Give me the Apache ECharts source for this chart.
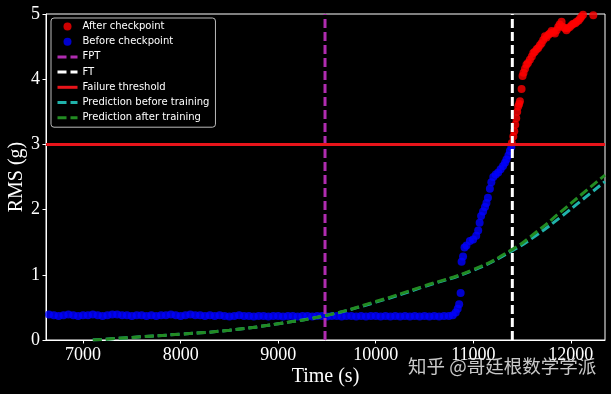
<!DOCTYPE html>
<html>
<head>
<meta charset="utf-8">
<script src="https://cdn.jsdelivr.net/npm/echarts@6/dist/echarts.min.js"></script>
<style>
  html, body { margin: 0; padding: 0; background: #000; }
  #chart { width: 611px; height: 394px; }
</style>
</head>
<body>
<div id="chart"></div>
<script>
// ---- data ----
const xTicks = [7000, 8000, 9000, 10000, 11000, 12000];
const yTicks = [0, 1, 2, 3, 4, 5];
const xRange = [6620, 12350];
const yRange = [0, 5];

const fptTime = 9480;        // first predicting time
const ftTime = 11400;        // failure time
const failureThreshold = 3;  // RMS (g)

// [time (s), RMS (g)]
const beforeCheckpoint = [
  [6600,0.38],[6650,0.39],[6700,0.38],[6750,0.37],[6800,0.38],[6850,0.39],[6900,0.38],[6950,0.37],
  [7000,0.38],[7050,0.38],[7100,0.39],[7150,0.38],[7200,0.37],[7250,0.38],[7300,0.39],[7350,0.39],
  [7400,0.38],[7450,0.38],[7500,0.37],[7550,0.38],[7600,0.38],[7650,0.37],[7700,0.38],[7750,0.37],
  [7800,0.38],[7850,0.38],[7900,0.39],[7950,0.38],[8000,0.37],[8050,0.38],[8100,0.39],[8150,0.38],
  [8200,0.38],[8250,0.37],[8300,0.38],[8350,0.37],[8400,0.38],[8450,0.37],[8500,0.36],[8550,0.37],
  [8600,0.38],[8650,0.37],[8700,0.37],[8750,0.36],[8800,0.37],[8850,0.37],[8900,0.36],[8950,0.37],
  [9000,0.37],[9050,0.36],[9100,0.37],[9150,0.37],[9200,0.36],[9250,0.37],[9300,0.37],[9350,0.36],
  [9400,0.37],[9450,0.37],[9500,0.36],[9550,0.37],[9600,0.37],[9650,0.36],[9700,0.37],[9750,0.37],
  [9800,0.36],[9850,0.37],[9900,0.36],[9950,0.37],[10000,0.37],[10050,0.36],[10100,0.37],[10150,0.36],
  [10200,0.37],[10250,0.36],[10300,0.37],[10350,0.36],[10400,0.37],[10450,0.36],[10500,0.37],[10550,0.36],
  [10600,0.37],[10650,0.36],[10700,0.37],[10750,0.37],[10790,0.38],[10820,0.42],[10840,0.48],[10855,0.55],
  [10870,0.72],[10880,1.20],[10895,1.28],[10910,1.42],[10930,1.45],[10965,1.52],[10998,1.54],[11030,1.60],
  [11050,1.68],[11065,1.80],[11080,1.90],[11100,1.97],[11120,2.04],[11135,2.10],[11150,2.18],[11170,2.32],
  [11185,2.42],[11205,2.50],[11230,2.54],[11255,2.57],[11280,2.62],[11305,2.67],[11325,2.72],[11340,2.77],
  [11360,2.83],[11375,2.90],[11390,2.96]
];

const afterCheckpoint = [
  [11395,3.02],[11410,3.12],[11420,3.20],[11430,3.30],[11440,3.40],[11450,3.50],[11460,3.58],[11470,3.62],
  [11478,3.66],[11495,3.85],[11505,4.05],[11515,4.10],[11530,4.16],[11545,4.22],[11560,4.25],[11580,4.30],
  [11600,4.35],[11615,4.40],[11630,4.42],[11650,4.46],[11665,4.48],[11683,4.52],[11700,4.55],[11717,4.60],
  [11735,4.66],[11750,4.64],[11770,4.68],[11785,4.70],[11803,4.74],[11820,4.72],[11837,4.70],[11855,4.75],
  [11870,4.80],[11885,4.84],[11905,4.88],[11920,4.80],[11940,4.78],[11955,4.75],[11970,4.78],[11990,4.80],
  [12010,4.83],[12025,4.85],[12045,4.86],[12060,4.88],[12080,4.90],[12095,4.93],[12110,4.96],[12125,4.99],
  [12230,4.98]
];

const predictionBeforeTraining = [
  [7100,0.00],[7500,0.04],[8000,0.09],[8500,0.15],[9000,0.25],[9500,0.38],[10000,0.58],
  [10500,0.82],[11000,1.07],[11400,1.37],[11650,1.61],[11900,1.89],[12100,2.13],[12350,2.43]
];

const predictionAfterTraining = [
  [7100,0.00],[7500,0.04],[8000,0.09],[8500,0.15],[9000,0.25],[9500,0.38],[10000,0.59],
  [10500,0.83],[11000,1.08],[11400,1.39],[11650,1.66],[11900,1.97],[12100,2.22],[12350,2.53]
];

const legendNames = ['After checkpoint', 'Before checkpoint', 'FPT', 'FT', 'Failure threshold',
                     'Prediction before training', 'Prediction after training'];
const lineLegendNames = ['FPT', 'FT', 'Failure threshold', 'Prediction before training', 'Prediction after training'];

// ---- chart ----
const serif = 'Liberation Serif';
const chart = echarts.init(document.getElementById('chart'), null, { renderer: 'canvas' });

const dashed = [9, 4];

chart.setOption({
  backgroundColor: '#000',
  animation: false,
  grid: {
    left: 46, right: 6, top: 14, bottom: 54,
    outerBoundsMode: 'none', containLabel: false,
    show: true, borderColor: '#fff', borderWidth: 1, backgroundColor: 'transparent'
  },
  legend: {
    orient: 'vertical',
    left: 51, top: 18,
    itemWidth: 20, itemHeight: 8, itemGap: 3.2,
    padding: [2.5, 6, 3.5, 5],
    backgroundColor: 'rgba(0,0,0,0.8)',
    borderColor: '#bbbbbb', borderWidth: 1, borderRadius: 3,
    textStyle: { color: '#fff', fontSize: 10, fontFamily: 'DejaVu Sans', lineHeight: 12 },
    data: legendNames.map(n => lineLegendNames.includes(n)
      ? { name: n, itemStyle: { opacity: 0 }, lineStyle: { width: 3 } }
      : { name: n })
  },
  xAxis: {
    type: 'value', min: xRange[0], max: xRange[1],
    name: 'Time (s)', nameLocation: 'middle', nameGap: 27, nameMoveOverlap: false,
    nameTextStyle: { color: '#fff', fontFamily: serif, fontSize: 20 },
    axisLine: { lineStyle: { color: '#fff', width: 1 } },
    axisTick: { show: true, inside: false, length: 3.5, customValues: xTicks, lineStyle: { color: '#fff' } },
    axisLabel: { customValues: xTicks, color: '#fff', fontFamily: serif, fontSize: 18, margin: 6,
                 formatter: v => String(v) },
    splitLine: { show: false }
  },
  yAxis: {
    type: 'value', min: yRange[0], max: yRange[1], interval: 1,
    name: 'RMS (g)', nameLocation: 'middle', nameGap: 19, nameRotate: 90, nameMoveOverlap: false,
    nameTextStyle: { color: '#fff', fontFamily: serif, fontSize: 20 },
    axisLine: { show: true, lineStyle: { color: '#fff', width: 1 } },
    axisTick: { show: true, inside: false, length: 3.5, customValues: yTicks, lineStyle: { color: '#fff' } },
    axisLabel: { customValues: yTicks, color: '#fff', fontFamily: serif, fontSize: 18, margin: 6,
                 formatter: v => String(v) },
    splitLine: { show: false }
  },
  graphic: [{
    type: 'text', left: 408, top: 357, z: 100,
    style: {
      text: '知乎 @哥廷根数学学派',
      fill: 'rgba(235,235,235,0.85)',
      font: '18.5px "Noto Sans CJK SC"'
    }
  }],
  series: [
    {
      name: 'After checkpoint', type: 'scatter', data: afterCheckpoint,
      symbol: 'circle', symbolSize: 8, itemStyle: { color: '#ff0000' }, z: 2
    },
    {
      name: 'Before checkpoint', type: 'scatter', data: beforeCheckpoint,
      symbol: 'circle', symbolSize: 8, itemStyle: { color: '#0000ff' }, z: 2
    },
    {
      name: 'FPT', type: 'line', symbol: 'none',
      data: [[fptTime, yRange[0]], [fptTime, yRange[1]]],
      itemStyle: { color: '#b02cb0' },
      lineStyle: { color: '#b02cb0', width: 3, type: dashed }, z: 3
    },
    {
      name: 'FT', type: 'line', symbol: 'none',
      data: [[ftTime, yRange[0]], [ftTime, yRange[1]]],
      itemStyle: { color: '#ffffff' },
      lineStyle: { color: '#ffffff', width: 3, type: dashed }, z: 3
    },
    {
      name: 'Failure threshold', type: 'line', symbol: 'none',
      data: [[xRange[0], failureThreshold], [xRange[1], failureThreshold]],
      itemStyle: { color: '#e8141a' },
      lineStyle: { color: '#e8141a', width: 3, type: 'solid' }, z: 3
    },
    {
      name: 'Prediction before training', type: 'line', symbol: 'none', smooth: true,
      data: predictionBeforeTraining,
      itemStyle: { color: '#20b2aa' },
      lineStyle: { color: '#20b2aa', width: 3, type: dashed }, z: 3
    },
    {
      name: 'Prediction after training', type: 'line', symbol: 'none', smooth: true,
      data: predictionAfterTraining,
      itemStyle: { color: '#228b22' },
      lineStyle: { color: '#228b22', width: 3, type: dashed }, z: 3
    }
  ]
});
</script>
</body>
</html>
